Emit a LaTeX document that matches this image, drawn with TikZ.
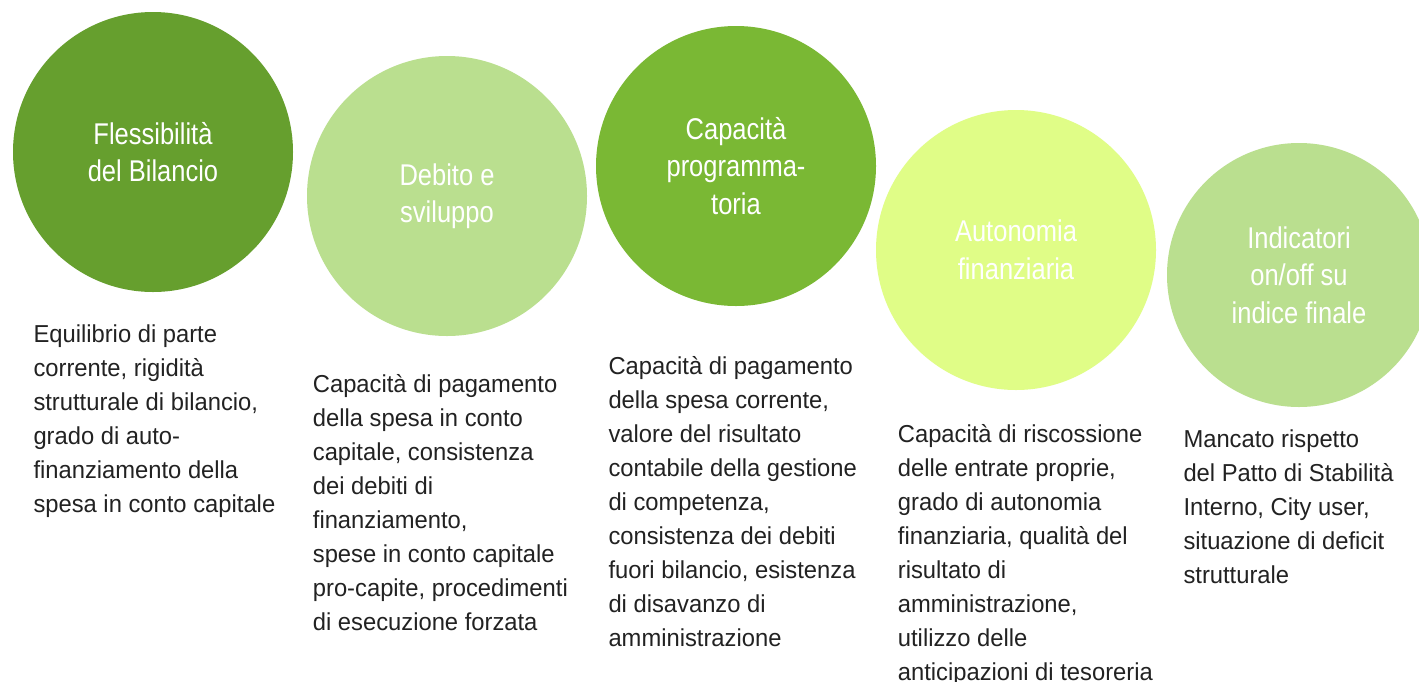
\documentclass[tikz,border=0pt]{standalone}
\usepackage{fontspec}
\setmainfont{Liberation Sans}
\newfontfamily\titlefont[FakeStretch=0.85]{Liberation Sans}
\newfontfamily\bodyfont[FakeStretch=0.97]{Liberation Sans}
\definecolor{cDark}{HTML}{669F2E}
\definecolor{cLight}{HTML}{BADF8F}
\definecolor{cMid}{HTML}{7AB834}
\definecolor{cYellow}{HTML}{E0FD87}
\definecolor{bodygray}{HTML}{222222}
\begin{document}
\begin{tikzpicture}[x=1pt,y=-1pt,
  bubble/.style={circle, inner sep=0pt, minimum size=280pt, text=white, align=center,
    font={\titlefont\fontsize{30}{37.5}\selectfont}},
  desc/.style={anchor=north west, inner sep=0pt, align=left, text=bodygray,
    font={\bodyfont\fontsize{24.5}{34}\selectfont}}]
\useasboundingbox (0,0) rectangle (1419,681);
\clip (0,0) rectangle (1419,681);
\fill[white] (0,0) rectangle (1419,681);

\node[bubble, fill=cDark] (c1) at (153,152) {Flessibilità\\del Bilancio};
\node[bubble, fill=cLight] (c2) at (447,196) {Debito e\\sviluppo};
\node[bubble, fill=cMid] (c3) at (736,166) {Capacità\\programma-\\toria};
\node[bubble, fill=cYellow] (c4) at (1016,250) {Autonomia\\finanziaria};
\node[bubble, fill=cLight, minimum size=264pt] (c5) at (1299,275) {Indicatori\\on/off su\\indice finale};

\node[desc] (t1) at (33.3,324.8) {Equilibrio di parte\\corrente, rigidità\\strutturale di bilancio,\\grado di auto-\\finanziamento della\\spesa in conto capitale};
\node[desc] (t2) at (312.7,374.2) {Capacità di pagamento\\della spesa in conto\\capitale, consistenza\\dei debiti di\\finanziamento,\\spese in conto capitale\\pro-capite, procedimenti\\di esecuzione forzata};
\node[desc] (t3) at (608.3,355.8) {Capacità di pagamento\\della spesa corrente,\\valore del risultato\\contabile della gestione\\di competenza,\\consistenza dei debiti\\fuori bilancio, esistenza\\di disavanzo di\\amministrazione};
\node[desc] (t4) at (897.7,424.2) {Capacità di riscossione\\delle entrate proprie,\\grado di autonomia\\finanziaria, qualità del\\risultato di\\amministrazione,\\utilizzo delle\\anticipazioni di tesoreria};
\node[desc] (t5) at (1183.3,429.2) {Mancato rispetto\\del Patto di Stabilità\\Interno, City user,\\situazione di deficit\\strutturale};
\end{tikzpicture}
\end{document}
